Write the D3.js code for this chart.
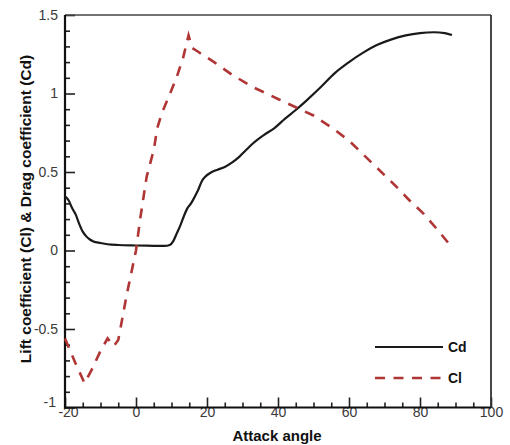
<!DOCTYPE html>
<html>
<head>
<meta charset="utf-8">
<script src="https://cdn.jsdelivr.net/npm/d3@7/dist/d3.min.js"></script>
<style>
  html, body { margin: 0; padding: 0; background: #fff; }
  svg { display: block; font-family: "Liberation Sans", Arial, sans-serif; }
</style>
</head>
<body>
<svg id="chart" width="510" height="445"></svg>
<script>
// Drag coefficient (Cd) vs attack angle
const cdAngle = [-20, -19, -18, -17, -16, -15, -14, -13, -12, -10, -8, -5, 0, 5, 8, 9.5, 10.5, 11.5, 12.5, 13.5, 14.5, 15.5, 16.5, 17.5, 18.5, 19.5, 21, 23, 25, 27, 29, 31, 33, 36, 39, 42, 45, 48, 52, 56, 60, 64, 68, 72, 76, 80, 84, 87, 89];
const cdValue = [0.345, 0.32, 0.27, 0.23, 0.17, 0.12, 0.09, 0.07, 0.058, 0.048, 0.04, 0.035, 0.032, 0.03, 0.029, 0.035, 0.06, 0.11, 0.16, 0.22, 0.27, 0.3, 0.34, 0.385, 0.44, 0.47, 0.495, 0.515, 0.532, 0.56, 0.595, 0.64, 0.683, 0.735, 0.78, 0.84, 0.895, 0.955, 1.04, 1.13, 1.2, 1.26, 1.31, 1.345, 1.37, 1.385, 1.39, 1.385, 1.373];

// Lift coefficient (Cl) vs attack angle
const clAngle = [-20, -17.2, -14.5, -12.5, -10, -8, -6.3, -5, -4, -2.6, 0, 1.1, 3, 5, 6, 7.2, 9.6, 11.5, 13.3, 14.8, 15.8, 17.5, 22, 27, 33, 40, 45.7, 50, 55.6, 60, 65, 70, 73.4, 77, 80.9, 85, 89];
const clValue = [-0.56, -0.71, -0.845, -0.76, -0.64, -0.56, -0.61, -0.57, -0.45, -0.28, 0.0, 0.19, 0.47, 0.64, 0.78, 0.87, 1.0, 1.107, 1.23, 1.37, 1.29, 1.266, 1.2, 1.12, 1.04, 0.965, 0.905, 0.86, 0.775, 0.7, 0.59, 0.48, 0.405, 0.32, 0.237, 0.13, 0.02];

const xTicks = [-20, 0, 20, 40, 60, 80, 100];
const yTicks = [-1, -0.5, 0, 0.5, 1, 1.5];
const seriesNames = ["Cd", "Cl"];

const margin = {left: 65, top: 15, right: 19, bottom: 37.5};
const W = 510, H = 445;
const svg = d3.select("#chart");

const x = d3.scaleLinear().domain([-20, 100]).range([margin.left, W - margin.right]);
const y = d3.scaleLinear().domain([-1, 1.5]).range([H - margin.bottom, margin.top]);

const fmt = d => String(d);

// minor ticks
const xMinor = d3.range(-20, 100.001, 5).filter(v => !xTicks.includes(v));
const yMinor = d3.range(-10, 15.001, 1).map(v => v / 10).filter(v => !yTicks.some(t => Math.abs(t - v) < 1e-9));

const gx = svg.append("g").attr("transform", `translate(0,${y(-1)})`);
gx.call(d3.axisBottom(x).tickValues(xMinor).tickSize(-5).tickFormat(""));
gx.call(g => g.selectAll(".domain").remove());
const gxM = svg.append("g").attr("transform", `translate(0,${y(-1)})`)
  .call(d3.axisBottom(x).tickValues(xTicks).tickSize(-10).tickPadding(0).tickFormat(fmt));
gxM.select(".domain").remove();
gxM.selectAll(".tick text").filter(d => d === -20).attr("dx", 3);

const gy = svg.append("g").attr("transform", `translate(${x(-20)},0)`);
gy.call(d3.axisLeft(y).tickValues(yMinor).tickSize(-5).tickFormat(""));
gy.call(g => g.selectAll(".domain").remove());
const gyM = svg.append("g").attr("transform", `translate(${x(-20)},0)`)
  .call(d3.axisLeft(y).tickValues(yTicks).tickSize(-10).tickPadding(7).tickFormat(fmt));
gyM.select(".domain").remove();
gyM.selectAll(".tick text").filter(d => d === -1).attr("dy", "-0.05em").attr("dx", -2);

svg.selectAll(".tick line").attr("stroke", "#222").attr("stroke-width", 1.6);
svg.selectAll(".tick text").attr("font-size", 14).attr("fill", "#3a3a3a");

// frame
svg.append("line").attr("x1", x(-20)).attr("x2", x(100)).attr("y1", y(1.5)).attr("y2", y(1.5))
  .attr("stroke", "#444").attr("stroke-width", 1.6);
svg.append("line").attr("x1", x(100)).attr("x2", x(100)).attr("y1", y(1.5)).attr("y2", y(-1))
  .attr("stroke", "#333").attr("stroke-width", 1.8);
svg.append("line").attr("x1", x(-20)).attr("x2", x(-20)).attr("y1", y(1.5)).attr("y2", y(-1) + 1)
  .attr("stroke", "#111").attr("stroke-width", 2.2);
svg.append("line").attr("x1", x(-20) - 1).attr("x2", x(100)).attr("y1", y(-1)).attr("y2", y(-1))
  .attr("stroke", "#111").attr("stroke-width", 2.2);

// curves
const cdData = cdAngle.map((a, i) => [a, cdValue[i]]);
const clData = clAngle.map((a, i) => [a, clValue[i]]);

const lineCd = d3.line().x(d => x(d[0])).y(d => y(d[1])).curve(d3.curveMonotoneX);
const lineCl = d3.line().x(d => x(d[0])).y(d => y(d[1])).curve(d3.curveLinear);

svg.append("path").datum(cdData).attr("d", lineCd)
  .attr("fill", "none").attr("stroke", "#1a1a1a").attr("stroke-width", 2.2);
svg.append("path").datum(clData).attr("d", lineCl)
  .attr("fill", "none").attr("stroke", "#b03535").attr("stroke-width", 2.6)
  .attr("stroke-dasharray", "10,8.5");

// legend
const legY = [347, 378];
const legColor = ["#1a1a1a", "#b03535"];
const legDash = [null, "10,8.5"];
seriesNames.forEach((name, i) => {
  svg.append("line").attr("x1", 375).attr("x2", 443).attr("y1", legY[i]).attr("y2", legY[i])
    .attr("stroke", legColor[i]).attr("stroke-width", i ? 2.6 : 2.2)
    .attr("stroke-dasharray", legDash[i]);
  svg.append("text").attr("x", 448).attr("y", legY[i] + 5)
    .attr("font-size", 14).attr("font-weight", "bold").attr("fill", "#111").text(name);
});

// axis titles
svg.append("text").attr("x", 277).attr("y", 441).attr("text-anchor", "middle")
  .attr("font-size", 15).attr("font-weight", "bold").attr("fill", "#111").text("Attack angle");
svg.append("text").attr("transform", "translate(31,209) rotate(-90)").attr("text-anchor", "middle")
  .attr("font-size", 15.5).attr("font-weight", "bold").attr("fill", "#111")
  .text("Lift coefficient (Cl) & Drag coefficient (Cd)");
</script>
</body>
</html>
